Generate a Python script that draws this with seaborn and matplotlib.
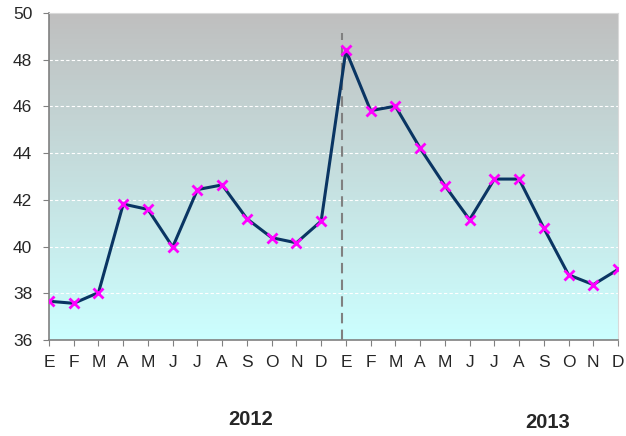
import matplotlib
matplotlib.use("Agg")
import matplotlib.pyplot as plt
from matplotlib.colors import LinearSegmentedColormap
import numpy as np
import pandas as pd
import seaborn as sns

# month initials (Spanish) for two years
months = ["E", "F", "M", "A", "M", "J", "J", "A", "S", "O", "N", "D"]
years = ["2012", "2013"]
values_2012 = [37.66, 37.57, 38.03, 41.82, 41.59, 39.98, 42.44, 42.64, 41.19, 40.38, 40.16, 41.09]
values_2013 = [48.40, 45.82, 46.01, 44.21, 42.61, 41.15, 42.89, 42.89, 40.79, 38.79, 38.37, 39.02]

df = pd.DataFrame({
    "pos": np.arange(24),
    "value": values_2012 + values_2013,
})

sns.set_style("white")
plt.rcParams["font.family"] = ["Liberation Sans", "DejaVu Sans"]

fig = plt.figure(figsize=(6.26, 4.36), dpi=100)
ax = fig.add_axes([0.0783, 0.2202, 0.909, 0.750])

# gradient background, grey on top to light cyan at bottom
cmap = LinearSegmentedColormap.from_list("bg", ["#ccffff", "#bfbfbf"])
grad = np.linspace(0, 1, 256).reshape(-1, 1)
ax.imshow(grad, cmap=cmap, aspect="auto", origin="lower",
          extent=[0, 23, 36, 50], zorder=0)

for y in [38, 40, 42, 44, 46, 48]:
    ax.axhline(y, color="white", lw=0.8, ls=(0, (3, 2)), zorder=1)

ax.axvline(11.83, ymax=0.94, color="#808080", lw=1.5, ls=(0, (5, 3)), zorder=2)

sns.lineplot(data=df, x="pos", y="value", ax=ax, color="#0a3563", lw=2.2,
             marker="x", markersize=7, markeredgewidth=2,
             markeredgecolor="#ff00ff", zorder=3)

ax.set_xlim(0, 23)
ax.set_ylim(36, 50)
ax.set_yticks(range(36, 51, 2))
ax.set_xticks(range(24))
ax.set_xticklabels(months * 2)
ax.tick_params(axis="both", labelsize=12.5, length=4, color="#808080",
               direction="out", bottom=True, left=True)
ax.tick_params(axis="x", pad=7)
ax.tick_params(axis="y", pad=8)
ax.set_xlabel("")
ax.set_ylabel("")

for side in ["top", "right"]:
    ax.spines[side].set_color("#d9d9d9")
for side in ["left", "bottom"]:
    ax.spines[side].set_color("#808080")
    ax.spines[side].set_linewidth(1.2)

fig.text(251 / 626, 1 - 419 / 436, years[0], ha="center", va="center",
         fontsize=14.5, fontweight="bold")
fig.text(547.5 / 626, 1 - 422.5 / 436, years[1], ha="center", va="center",
         fontsize=14.5, fontweight="bold")

fig.savefig("out.png", dpi=100)
